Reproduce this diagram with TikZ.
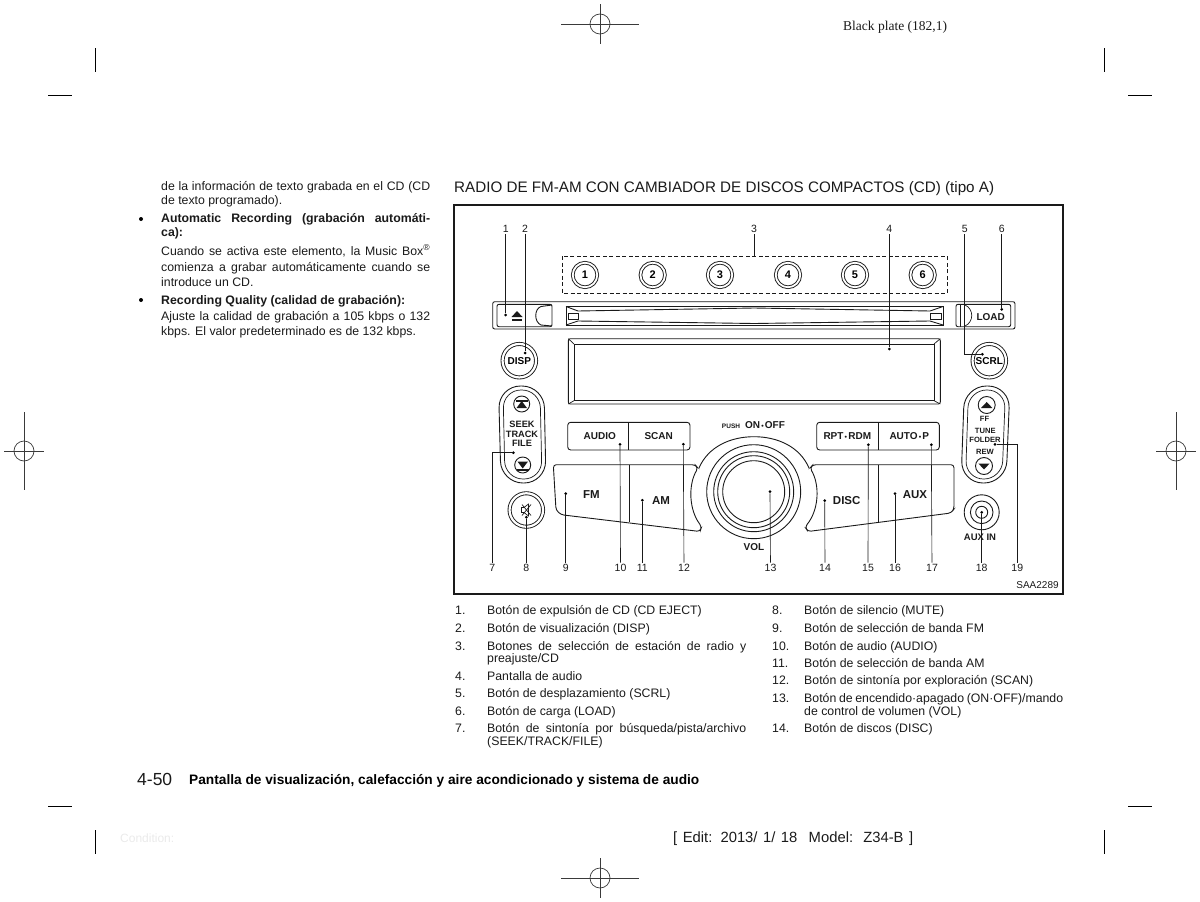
\documentclass[tikz,border=0pt]{standalone}
\usepackage{fontspec}
\usepackage{xcolor}
\usetikzlibrary{positioning,calc}
\setmainfont{Liberation Sans}
\newfontfamily\platefont{Liberation Serif}
\definecolor{Ink}{HTML}{1A1A1A}
\definecolor{Faint}{HTML}{EAEAEA}
\definecolor{Mark}{HTML}{3A3A3A}
\newcommand{\spread}[2]{\makebox[#1][s]{#2}}

\begin{document}
\begin{tikzpicture}[
    x=1pt, y=-1pt,
    inner sep=0pt,
    line/.style={draw=Ink, line width=0.9pt},
    thin line/.style={draw=Ink, line width=0.7pt},
    leader/.style={draw=Ink, line width=0.65pt},
    crop/.style={draw=black, line width=0.8pt},
    reg/.style={draw=Mark, line width=0.7pt},
    dot/.style={circle, fill=black, minimum size=3pt},
    num/.style={font=\fontsize{10.5}{12}\selectfont, text=Ink, inner sep=1.5pt},
    body/.style={anchor=base west, font=\fontsize{12.3}{14}\selectfont, text=Ink},
    bodyb/.style={anchor=base west, font=\fontsize{12.3}{14}\selectfont\bfseries, text=Ink},
    preset/.style={circle, draw=Ink, line width=0.9pt, minimum size=24.5pt, font=\fontsize{11}{12}\selectfont\bfseries, double=white, double distance=1.8pt},
    roundbtn/.style={circle, draw=Ink, line width=0.9pt, minimum size=33.5pt, font=\fontsize{10}{11}\selectfont\bfseries, double=white, double distance=2.2pt},
    panel/.style={font=\fontsize{10}{11}\selectfont\bfseries, text=Ink},
    small/.style={font=\fontsize{7.6}{9}\selectfont\bfseries, text=Ink},
    big/.style={font=\fontsize{11.5}{13}\selectfont\bfseries, text=Ink}
  ]
    \useasboundingbox (0,0) rectangle (1200,902);

    % crop marks
    \draw[reg] (600,24) circle (10);
    \draw[reg] (561,24) -- (639,24);
    \draw[reg] (600,4) -- (600,44);
    \draw[reg] (600,878) circle (10);
    \draw[reg] (561,878) -- (639,878);
    \draw[reg] (600,858) -- (600,898);
    \draw[reg] (24,451) circle (10);
    \draw[reg] (4,451) -- (44,451);
    \draw[reg] (24,412) -- (24,490);
    \draw[reg] (1176,451) circle (10);
    \draw[reg] (1156,451) -- (1196,451);
    \draw[reg] (1176,412) -- (1176,490);
    \draw[crop] (48,95) -- (72,95);
    \draw[crop] (95.5,48) -- (95.5,72);
    \draw[crop] (1128,95) -- (1152,95);
    \draw[crop] (1104.5,48) -- (1104.5,72);
    \draw[crop] (48,806) -- (72,806);
    \draw[crop] (95.5,830) -- (95.5,854);
    \draw[crop] (1128,806) -- (1152,806);
    \draw[crop] (1104.5,830) -- (1104.5,854);

    % page header and footer
    \node[anchor=base west, font=\platefont\fontsize{13.5}{15}\selectfont, text=Ink] (plate) at (843,30.5) {Black plate (182,1)};
    \node[anchor=base west, font=\fontsize{17.5}{20}\selectfont, text=Ink] (pageno) at (137,785) {4-50};
    \node[anchor=base west, font=\fontsize{13.7}{16}\selectfont\bfseries, text=black] (section) at (189,784.5) {Pantalla de visualización, calefacción y aire acondicionado y sistema de audio};
    \node[anchor=base west, font=\fontsize{12}{14}\selectfont, text=Faint] (cond) at (120,842) {Condition:};
    \node[anchor=base west, font=\fontsize{14.8}{17}\selectfont, text=Ink] (edit) at (673,842.5) {\spread{240pt}{[ Edit: 2013/ 1/ 18\hspace{6pt} Model:\hspace{2pt} Z34-B ]}};

    % left column
    \node[body] (t1) at (161,190) {\spread{269pt}{de la información de texto grabada en el CD (CD}};
    \node[body] (t2) at (161,204) {de texto programado).};
    \node[circle, fill=black, minimum size=4pt] (b1) at (141,219) {};
    \node[bodyb] (t3) at (161,222) {\spread{269pt}{Automatic Recording (grabación automáti-}};
    \node[bodyb] (t4) at (161,236) {ca):};
    \node[body] (t5) at (161,255) {\spread{269pt}{Cuando se activa este elemento, la Music Box\textsuperscript{®}}};
    \node[body] (t6) at (161,271) {\spread{269pt}{comienza a grabar automáticamente cuando se}};
    \node[body] (t7) at (161,286) {introduce un CD.};
    \node[circle, fill=black, minimum size=4pt] (b2) at (141,300) {};
    \node[bodyb] (t8) at (161,304) {Recording Quality (calidad de grabación):};
    \node[body] (t9) at (161,320) {\spread{269pt}{Ajuste la calidad de grabación a 105 kbps o 132}};
    \node[body] (t10) at (161,335) {kbps. El valor predeterminado es de 132 kbps.};

    % title and frame
    \node[anchor=base west, font=\fontsize{15.2}{17}\selectfont, text=Ink] (title) at (454,192) {RADIO DE FM-AM CON CAMBIADOR DE DISCOS COMPACTOS (CD) (tipo A)};
    \draw[draw=Ink, line width=1.1pt] (454,205) rectangle (1063,594);
    \node[font=\fontsize{10}{11}\selectfont, text=Ink] (code) at (1037.5,585.5) {SAA2289};

    % preset buttons
    \draw[thin line, dashed, dash pattern=on 4pt off 2.5pt] (562,256) rectangle (947,293);
    \node[preset] (p1) at (585,275) {1};
    \node[preset] (p2) at (652.7,275) {2};
    \node[preset] (p3) at (720,275) {3};
    \node[preset] (p4) at (788,275) {4};
    \node[preset] (p5) at (855,275) {5};
    \node[preset] (p6) at (922.7,275) {6};
    \coordinate (presets) at (754,256);

    % cd strip
    \draw[line, rounded corners=2pt] (492.7,301.7) rectangle (1015,329);
    \draw[line, rounded corners=2pt] (497,304.3) -- (552,304.3) -- (552,326.7) -- (497,326.7) -- cycle;
    \draw[line] (552,305) -- (541,306.5) .. controls (534,309) and (534,322) .. (541,325) -- (552,326);
    \fill[Ink] (511.5,317) -- (522.5,317) -- (517,311) -- cycle;
    \fill[Ink] (512,319) rectangle (522,321);
    \draw[line] (566,306.5) rectangle (943,325);
    \draw[line] (566,306.5) -- (578,311) -- (754,308) -- (930,311) -- (943,306.5);
    \draw[line] (566,325) -- (578,321) -- (754,323.5) -- (930,321) -- (943,325);
    \draw[thin line] (568,313) rectangle (578,319);
    \draw[thin line] (930,313) rectangle (941,319);
    \draw[line, rounded corners=2pt] (956,304.3) -- (1010.7,304.3) -- (1010.7,326.7) -- (956,326.7) -- cycle;
    \draw[thin line] (960,304.3) -- (960,326.7);
    \draw[thin line] (965,305) .. controls (974,309) and (974,322) .. (965,326);
    \node[panel] (load) at (990.7,316.8) {LOAD};

    % display
    \draw[line, rounded corners=2pt] (568.3,338.7) rectangle (940.3,404);
    \draw[line] (574,344) rectangle (934,400.7);
    \draw[thin line] (568.3,338.7) -- (574,344);
    \draw[thin line] (940.3,338.7) -- (934,344);
    \draw[thin line] (568.3,404) -- (574,400.7);
    \draw[thin line] (940.3,404) -- (934,400.7);

    % side buttons
    \node[roundbtn] (disp) at (519.3,360.7) {DISP};
    \node[roundbtn] (scrl) at (989.3,360.7) {SCRL};
    \node[roundbtn] (mute) at (526.3,510) {};
    \draw[thin line] (521.5,507.5) -- (524,507.5) -- (528.5,504) -- (528.5,516) -- (524,512.5) -- (521.5,512.5) -- cycle;
    \draw[thin line] (522,504.5) -- (531,515.5);
    \draw[thin line] (531,504.5) -- (522,515.5);

    % seek rocker
    \draw[line, rounded corners=22pt] (498.5,386) -- (544,386) -- (546,483) -- (501,483) -- cycle;
    \draw[thin line, rounded corners=18pt] (503,390) -- (540,390) -- (542,479) -- (505,479) -- cycle;
    \draw[line, fill=white] (521.7,404) circle (8);
    \draw[line, fill=white] (522.7,465) circle (8);
    \fill[Ink] (516,399.5) rectangle (527.5,401.5);
    \fill[Ink] (516.5,408) -- (527,408) -- (521.7,401) -- cycle;
    \fill[Ink] (517.5,461.5) -- (528,461.5) -- (522.7,468.5) -- cycle;
    \fill[Ink] (517,468.5) rectangle (528.5,470.5);
    \node[small, align=center, font=\fontsize{9.2}{9.5}\selectfont\bfseries] (seek) at (522,434) {SEEK\\TRACK\\FILE};

    % tune rocker
    \draw[line, rounded corners=22pt] (964.5,386) -- (1010,386) -- (1006,483) -- (961,483) -- cycle;
    \draw[thin line, rounded corners=18pt] (968.5,390) -- (1005.5,390) -- (1002,479) -- (965.5,479) -- cycle;
    \draw[line, fill=white] (986.7,405) circle (8.5);
    \draw[line, fill=white] (984,466) circle (8.5);
    \fill[Ink] (981,408) -- (992.4,408) -- (986.7,402) -- cycle;
    \fill[Ink] (978.4,463.5) -- (989.6,463.5) -- (984,469.5) -- cycle;
    \node[small] (ff) at (984.5,418.5) {FF};
    \node[small] (tune) at (985.3,431) {TUNE};
    \node[small] (folder) at (985,439.5) {FOLDER};
    \node[small] (rew) at (985,451.7) {REW};

    % aux jack
    \draw[line] (981.7,512.3) circle (17.5);
    \draw[line] (981.7,512.3) circle (11.3);
    \draw[line] (981.7,512.3) circle (6);
    \node[small, font=\fontsize{9.5}{10}\selectfont\bfseries] (auxin) at (980,536.8) {AUX IN};

    % upper button pairs
    \draw[line, rounded corners=3pt] (567.7,422.3) rectangle (690,450);
    \draw[line] (628.7,422.3) -- (628.7,450);
    \node[panel] (audio) at (599.7,436) {AUDIO};
    \node[panel] (scan) at (658.7,436) {SCAN};
    \draw[line, rounded corners=3pt] (816.7,422.3) rectangle (939.3,450);
    \draw[line] (878.7,422.3) -- (878.7,450);
    \node[panel] (rpt) at (847.3,436) {RPT{\fontsize{7}{8}\selectfont\,•\,}RDM};
    \node[panel] (auto) at (909.3,436) {AUTO{\fontsize{7}{8}\selectfont\,•\,}P};

    % band plates
    \draw[line, rounded corners=3pt] (553.3,464.7) -- (695,464.7) -- (698,468) .. controls (688,485) and (689,510) .. (701.7,526.7) -- (700,531.5) -- (561,514.7) -- (556,510) -- cycle;
    \draw[line] (629.3,464.7) -- (629.3,522);
    \node[big] (fm) at (591.3,494.3) {FM};
    \node[big] (am) at (661,500.3) {AM};
    \draw[line, rounded corners=3pt] (954,464.7) -- (813,464.7) -- (810,468) .. controls (820,485) and (819,510) .. (805,527) -- (808,531.5) -- (951,513) -- (954,509) -- cycle;
    \draw[line] (878.7,464.7) -- (878.7,522);
    \node[big] (disc) at (846.7,500.3) {DISC};
    \node[big] (aux) at (915,494.3) {AUX};

    % volume knob
    \draw[line] (699,468) .. controls (708,447) and (730,436.7) .. (754,436.7) .. controls (778,436.7) and (800,447) .. (809,468);
    \draw[line] (753.7,491.7) circle (47);
    \draw[line] (753.7,491.7) circle (40);
    \draw[line] (753.7,491.7) circle (36);
    \draw[line] (753.7,491.7) circle (31);
    \node[small, font=\fontsize{6.5}{8}\selectfont\bfseries] (push) at (731,426) {PUSH};
    \node[panel] (onoff) at (765,425) {ON{\fontsize{7}{8}\selectfont\,•\,}OFF};
    \node[panel] (vol) at (754,547) {VOL};

    % callouts
    \node[num] (n1) at (505.7,229) {1};
    \node[num] (n2) at (525,229) {2};
    \node[num] (n3) at (754,229) {3};
    \node[num] (n4) at (889.3,229) {4};
    \node[num] (n5) at (964.7,229) {5};
    \node[num] (n6) at (1001.7,229) {6};
    \node[num] (n7) at (492.3,568) {7};
    \node[num] (n8) at (526.3,568) {8};
    \node[num] (n9) at (565.7,568) {9};
    \node[num] (n10) at (620.5,568) {10};
    \node[num] (n11) at (642.3,568) {11};
    \node[num] (n12) at (684,568) {12};
    \node[num] (n13) at (770.5,568) {13};
    \node[num] (n14) at (825,568) {14};
    \node[num] (n15) at (868,568) {15};
    \node[num] (n16) at (895,568) {16};
    \node[num] (n17) at (932,568) {17};
    \node[num] (n18) at (981.7,568) {18};
    \node[num] (n19) at (1017.3,568) {19};

    \node[dot] (d1) at (505.7,315) {};
    \node[dot] (d2) at (525,353) {};
    \node[dot] (d4) at (889.3,349) {};
    \node[dot] (d5) at (982.3,354.3) {};
    \node[dot] (d6) at (1001.7,309.3) {};
    \node[dot] (d7) at (513.3,452.7) {};
    \node[dot] (d8) at (526.3,517.3) {};
    \node[dot] (d9) at (565.7,493.7) {};
    \node[dot] (d10) at (620,444.3) {};
    \node[dot] (d11) at (642.3,500.3) {};
    \node[dot] (d12) at (683.3,444.3) {};
    \node[dot] (d13) at (770,491.7) {};
    \node[dot] (d14) at (824.7,500.7) {};
    \node[dot] (d15) at (868.3,444.7) {};
    \node[dot] (d16) at (895,493.7) {};
    \node[dot] (d17) at (931.3,444.7) {};
    \node[dot] (d18) at (981.7,512.3) {};
    \node[dot] (d19) at (995,444.3) {};

    \draw[leader] (n1) -- (d1);
    \draw[leader] (n2) -- (d2);
    \draw[leader] (n3) -- (presets);
    \draw[leader] (n4) -- (d4);
    \draw[leader] (n5) |- (d5);
    \draw[leader] (n6) -- (d6);
    \draw[leader] (n7) |- (d7);
    \draw[leader] (n8) -- (d8);
    \draw[leader] (n9) -- (d9);
    \draw[leader] (n10) -- (d10);
    \draw[leader] (n11) -- (d11);
    \draw[leader] (n12) -- (d12);
    \draw[leader] (n13) -- (d13);
    \draw[leader] (n14) -- (d14);
    \draw[leader] (n15) -- (d15);
    \draw[leader] (n16) -- (d16);
    \draw[leader] (n17) -- (d17);
    \draw[leader] (n18) -- (d18);
    \draw[leader] (n19) |- (d19);

    % numbered list, first column
    \node[body] (i1) at (455,614) {1.};
    \node[body] (l1) at (487,614) {Botón de expulsión de CD (CD EJECT)};
    \node[body] (i2) at (455,632) {2.};
    \node[body] (l2) at (487,632) {Botón de visualización (DISP)};
    \node[body] (i3) at (455,650) {3.};
    \node[body] (l3) at (487,650) {\spread{259pt}{Botones de selección de estación de radio y}};
    \node[body] (l3b) at (487,662.5) {preajuste/CD};
    \node[body] (i4) at (455,680) {4.};
    \node[body] (l4) at (487,680) {Pantalla de audio};
    \node[body] (i5) at (455,697) {5.};
    \node[body] (l5) at (487,697) {Botón de desplazamiento (SCRL)};
    \node[body] (i6) at (455,715) {6.};
    \node[body] (l6) at (487,715) {Botón de carga (LOAD)};
    \node[body] (i7) at (455,732) {7.};
    \node[body] (l7) at (487,732) {\spread{259pt}{Botón de sintonía por búsqueda/pista/archivo}};
    \node[body] (l7b) at (487,745) {(SEEK/TRACK/FILE)};

    % numbered list, second column
    \node[body] (i8) at (772,614) {8.};
    \node[body] (l8) at (804,614) {Botón de silencio (MUTE)};
    \node[body] (i9) at (772,632) {9.};
    \node[body] (l9) at (804,632) {Botón de selección de banda FM};
    \node[body] (i10) at (772,650) {10.};
    \node[body] (l10) at (804,650) {Botón de audio (AUDIO)};
    \node[body] (i11) at (772,667) {11.};
    \node[body] (l11) at (804,667) {Botón de selección de banda AM};
    \node[body] (i12) at (772,684) {12.};
    \node[body] (l12) at (804,684) {Botón de sintonía por exploración (SCAN)};
    \node[body] (i13) at (772,702) {13.};
    \node[body] (l13) at (804,702) {\spread{259pt}{Botón de encendido·apagado (ON·OFF)/mando}};
    \node[body] (l13b) at (804,715) {de control de volumen (VOL)};
    \node[body] (i14) at (772,732) {14.};
    \node[body] (l14) at (804,732) {Botón de discos (DISC)};
  \end{tikzpicture}
\end{document}
